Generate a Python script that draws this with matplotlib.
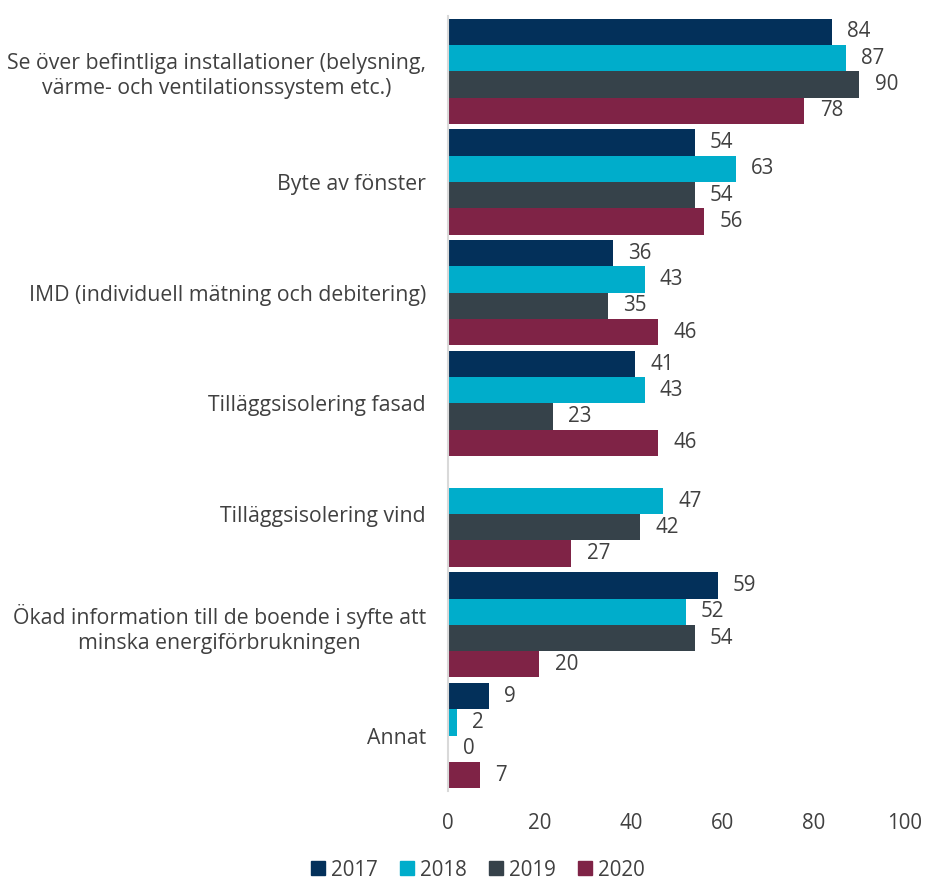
import numpy as np
import matplotlib
matplotlib.use("Agg")
import matplotlib.pyplot as plt
from matplotlib.lines import Line2D

plt.rcParams['font.family'] = ['Open Sans', 'DejaVu Sans']

categories = [
    "Se över befintliga installationer (belysning,\nvärme- och ventilationssystem etc.)",
    "Byte av fönster",
    "IMD (individuell mätning och debitering)",
    "Tilläggsisolering fasad",
    "Tilläggsisolering vind",
    "Ökad information till de boende i syfte att\nminska energiförbrukningen",
    "Annat",
]
years = ["2017", "2018", "2019", "2020"]
v2017 = [84, 54, 36, 41, np.nan, 59, 9]
v2018 = [87, 63, 43, 43, 47, 52, 2]
v2019 = [90, 54, 35, 23, 42, 54, 0]
v2020 = [78, 56, 46, 46, 27, 20, 7]
series = [v2017, v2018, v2019, v2020]
colors = ["#03305A", "#00ADCB", "#36424A", "#7F2346"]
xticks = [0, 20, 40, 60, 80, 100]

text_color = "#404040"
fs = 14.8

fig = plt.figure(figsize=(9.26, 8.82), dpi=100)
ax = fig.add_axes([0.4838, 0.1032, 0.4935, 0.8787])

n = len(categories)
group = np.arange(n)
bar_h = 0.95 / 4

for i, (vals, col) in enumerate(zip(series, colors)):
    y = group - 0.475 + bar_h * (i + 0.5)
    vals = np.array(vals, dtype=float)
    mask = ~np.isnan(vals)
    ax.barh(y[mask], vals[mask], height=bar_h, color=col, edgecolor='none')
    for yy, v in zip(y[mask], vals[mask]):
        ax.annotate(f"{v:.0f}", xy=(v, yy), xytext=(11, 0), textcoords='offset points',
                    ha='left', va='center', fontsize=fs, color=text_color)

ax.set_ylim(n - 0.5, -0.5)
ax.set_xlim(0, 100)
ax.set_xticks(xticks)
ax.set_xticklabels([str(t) for t in xticks], fontsize=fs, color=text_color)
ax.set_yticks(group)
ax.set_yticklabels(categories, fontsize=15.3, color=text_color, multialignment='center',
                   linespacing=1.25)
ax.tick_params(axis='y', length=0, pad=16)
ax.tick_params(axis='x', length=0, pad=16)
for s in ['top', 'right', 'bottom']:
    ax.spines[s].set_visible(False)
ax.spines['left'].set_color('#D9D9D9')
ax.spines['left'].set_linewidth(1.5)

handles = [Line2D([0], [0], marker='s', linestyle='none', markersize=10,
                  markerfacecolor=c, markeredgecolor=c) for c in colors]
fig.legend(handles, years, loc='lower center', bbox_to_anchor=(0.513, -0.017), ncol=4,
           frameon=False, fontsize=fs, labelcolor=text_color, handletextpad=0.05,
           columnspacing=0.8, handlelength=1.2, borderpad=0.3)

fig.savefig("out.png", dpi=100)
